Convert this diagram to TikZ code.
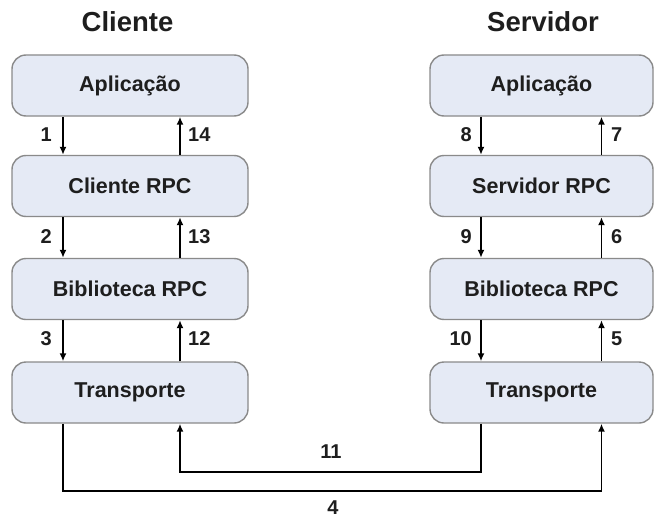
\documentclass[tikz,border=0pt]{standalone}
\usepackage{fontspec}
\setmainfont{Liberation Sans}
\usetikzlibrary{arrows.meta}
\definecolor{boxfill}{HTML}{E5EAF5}
\definecolor{boxline}{HTML}{8A8A8A}
\definecolor{ink}{HTML}{1E1E1E}
\begin{document}
\begin{tikzpicture}[x=1pt,y=-1pt,
  layer/.style={draw=boxline, fill=boxfill, line width=1.4pt, rounded corners=14pt,
    minimum height=61pt, inner sep=0pt, text=ink,
    font=\fontsize{21.5}{24}\selectfont\bfseries},
  leftbox/.style={layer, minimum width=236pt},
  rightbox/.style={layer, minimum width=223pt},
  title/.style={font=\fontsize{27.5}{30}\selectfont\bfseries, text=ink, inner sep=0pt},
  num/.style={font=\fontsize{20}{22}\selectfont\bfseries, text=ink, inner sep=0pt},
  arr/.style={draw=black, line width=1.6pt, -{Latex[length=8pt,width=7pt]}}]
\useasboundingbox (0,0) rectangle (655,519);

% column titles
\node[title] (tc) at (127.5,22) {Cliente};
\node[title] (ts) at (543,22) {Servidor};

% client stack
\node[leftbox] (ca) at (130,85.5) {Aplicação};
\node[leftbox] (cr) at (130,186) {Cliente RPC};
\node[leftbox] (cb) at (130,289) {Biblioteca RPC};
\node[leftbox] (ct) at (130,392.5) {Transporte};

% server stack
\node[rightbox] (sa) at (541.5,85.5) {Aplicação};
\node[rightbox] (sr) at (541.5,186) {Servidor RPC};
\node[rightbox] (sb) at (541.5,289) {Biblioteca RPC};
\node[rightbox] (st) at (541.5,392.5) {Transporte};

% columns of the vertical arrows and levels of the bottom links
\coordinate (xl1) at (63,0);
\coordinate (xl2) at (180,0);
\coordinate (xr1) at (481,0);
\coordinate (xr2) at (601.5,0);
\coordinate (y11) at (0,471.7);
\coordinate (y4) at (0,491);

% client: call goes down, reply comes up
\draw[arr] (ca.south -| xl1) -- (cr.north -| xl1);
\draw[arr] (cr.south -| xl1) -- (cb.north -| xl1);
\draw[arr] (cb.south -| xl1) -- (ct.north -| xl1);
\draw[arr] (ct.north -| xl2) -- (cb.south -| xl2);
\draw[arr] (cb.north -| xl2) -- (cr.south -| xl2);
\draw[arr] (cr.north -| xl2) -- (ca.south -| xl2);

% server: request comes up, reply goes down
\draw[arr] (st.north -| xr2) -- (sb.south -| xr2);
\draw[arr] (sb.north -| xr2) -- (sr.south -| xr2);
\draw[arr] (sr.north -| xr2) -- (sa.south -| xr2);
\draw[arr] (sa.south -| xr1) -- (sr.north -| xr1);
\draw[arr] (sr.south -| xr1) -- (sb.north -| xr1);
\draw[arr] (sb.south -| xr1) -- (st.north -| xr1);

% network links between the transport layers
\draw[arr] (ct.south -| xl1) -- (xl1 |- y4) -- (xr2 |- y4) -- (st.south -| xr2);
\draw[arr] (st.south -| xr1) -- (xr1 |- y11) -- (xl2 |- y11) -- (ct.south -| xl2);

% step numbers
\node[num, anchor=east] (n1) at (52,135) {1};
\node[num, anchor=east] (n2) at (52,237) {2};
\node[num, anchor=east] (n3) at (52,339) {3};
\node[num, anchor=west] (n14) at (188,135) {14};
\node[num, anchor=west] (n13) at (188,237) {13};
\node[num, anchor=west] (n12) at (188,339) {12};
\node[num, anchor=east] (n8) at (472,135) {8};
\node[num, anchor=east] (n9) at (472,237) {9};
\node[num, anchor=east] (n10) at (472,339) {10};
\node[num, anchor=west] (n7) at (611,135) {7};
\node[num, anchor=west] (n6) at (611,237) {6};
\node[num, anchor=west] (n5) at (611,339) {5};
\node[num] (n11) at (331,452) {11};
\node[num] (n4) at (333,508) {4};
\end{tikzpicture}
\end{document}
